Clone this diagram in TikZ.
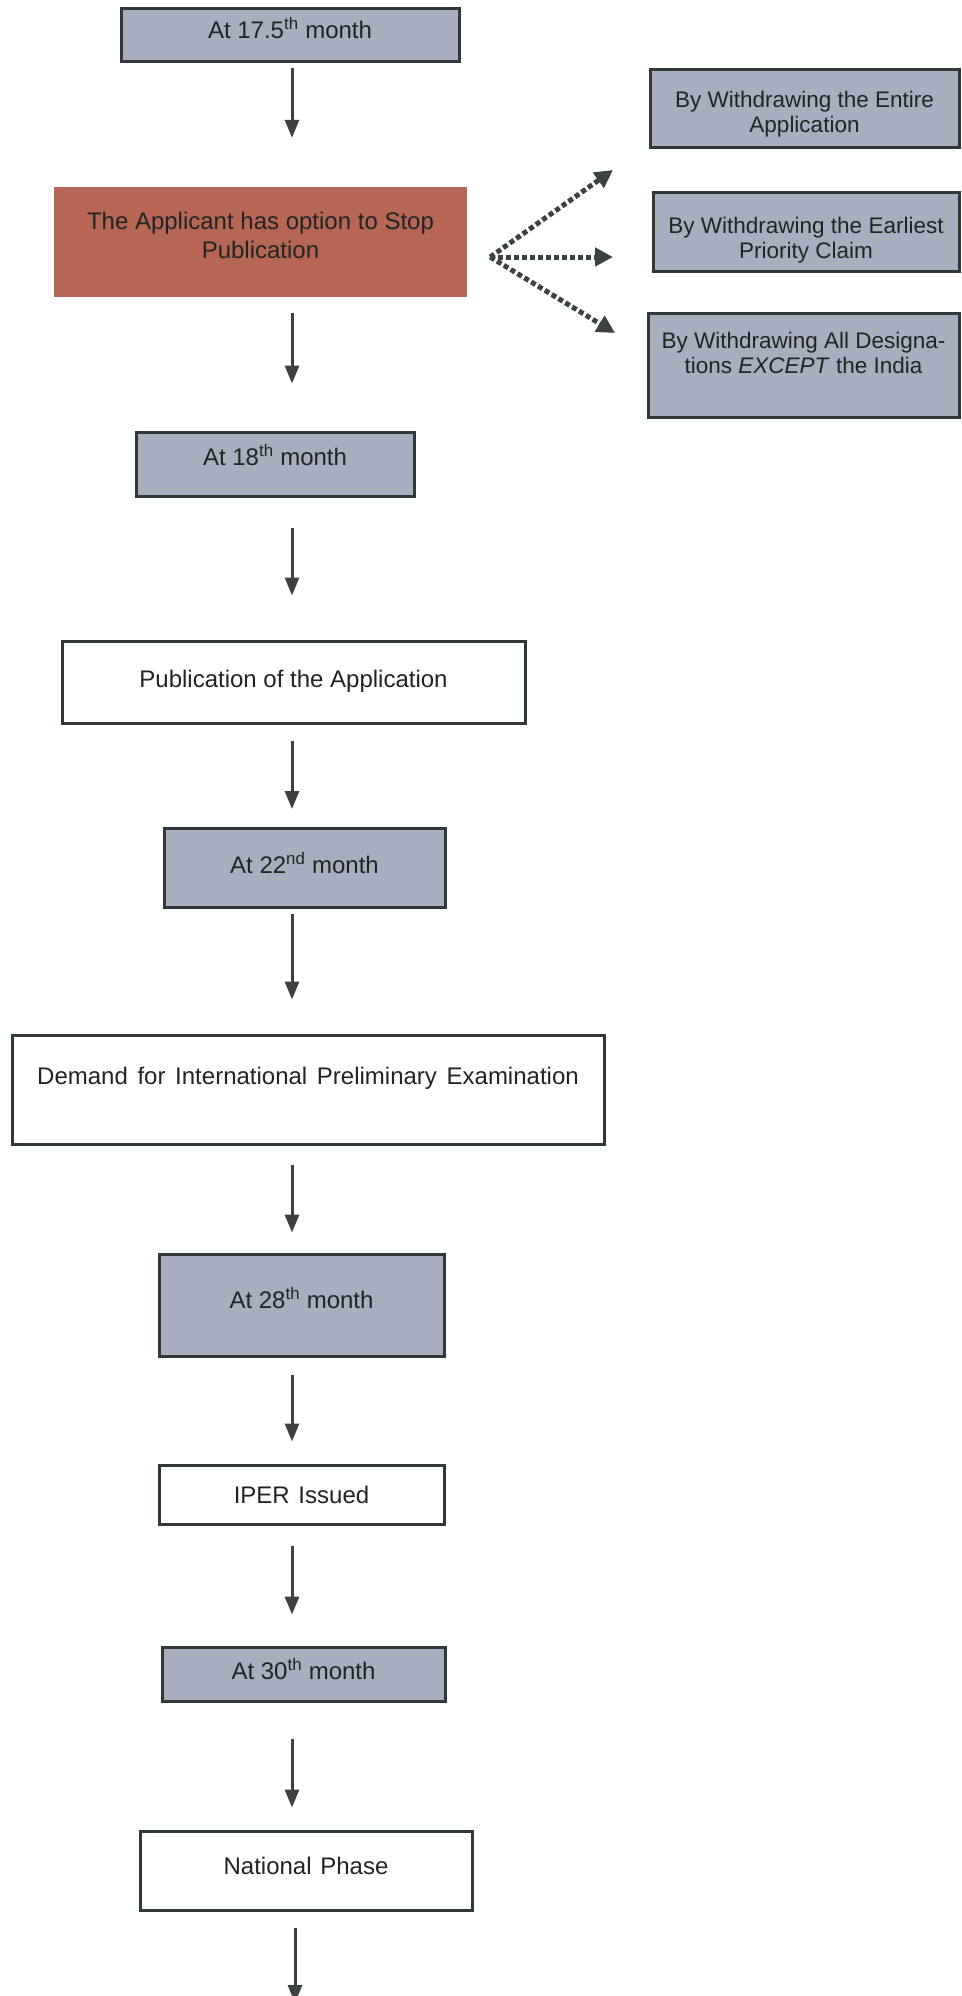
\documentclass[tikz,border=0pt]{standalone}
\usepackage{fontspec}
\setmainfont{Liberation Sans}
\usetikzlibrary{arrows.meta,calc}
\definecolor{mfill}{RGB}{168,173,192}
\definecolor{rfill}{RGB}{183,102,86}
\definecolor{bord}{RGB}{48,56,56}
\definecolor{arrc}{RGB}{60,66,66}
\definecolor{txt}{RGB}{32,36,36}
\begin{document}
\begin{tikzpicture}[x=1pt,y=-1pt,
  every node/.style={font=\fontsize{24}{28}\selectfont, text=txt, inner sep=0pt, align=center},
  base/.style={draw=bord, line width=3pt, rectangle},
  mbox/.style={base, fill=mfill, text height=17pt},
  wbox/.style={base, fill=white, text height=17pt},
  rbox/.style={rectangle, fill=rfill},
  sidebox/.style={base, fill=mfill, font=\fontsize{22.5}{25}\selectfont},
  arr/.style={draw=arrc, line width=3pt, -{Triangle[length=18pt,width=14pt]}},
  darr/.style={draw=arrc, line width=5pt, dash pattern=on 5pt off 3pt, -{Triangle[length=18pt,width=18pt]}}
]
\fill[white] (0,0) rectangle (961,1996);
\useasboundingbox (0,0) rectangle (961,1996);

% main column
\node[mbox, minimum width=338pt, minimum height=53pt, text depth=10pt] (b175) at (290,35.5) {At 17.5\textsuperscript{th} month};
\node[rbox, minimum width=413pt, minimum height=110pt, text height=46pt, text depth=13pt, font=\fontsize{24}{29}\selectfont] (red) at (260.5,242) {The Applicant has option to Stop\\Publication};
\node[mbox, minimum width=278pt, minimum height=64pt, text depth=14pt] (b18) at (275,464) {At 18\textsuperscript{th} month};
\node[wbox, minimum width=463pt, minimum height=82pt, text depth=7pt] (pub) at (293.5,682) {Publication of the Application};
\node[mbox, minimum width=281pt, minimum height=79pt, text depth=6pt] (b22) at (304.5,868) {At 22\textsuperscript{nd} month};
\node[wbox, minimum width=592pt, minimum height=109pt, text depth=27pt] (dem) at (308,1089.5) {Demand\hspace{3pt} for\hspace{3pt} International\hspace{3pt} Preliminary\hspace{3pt} Examination};
\node[mbox, minimum width=285pt, minimum height=102pt, text depth=10pt] (b28) at (301.5,1305) {At 28\textsuperscript{th} month};
\node[wbox, minimum width=285pt, minimum height=59pt, text depth=0pt] (iper) at (301.5,1494.5) {IPER\hspace{2pt} Issued};
\node[mbox, minimum width=283pt, minimum height=54pt, text depth=6pt] (b30) at (303.5,1674) {At 30\textsuperscript{th} month};
\node[wbox, minimum width=332pt, minimum height=79pt, text depth=9pt] (nat) at (306,1870.5) {National\hspace{2pt} Phase};

% side boxes
\node[sidebox, minimum width=309pt, minimum height=78pt, text height=48pt, text depth=0pt] (r1) at (804.5,109) {By Withdrawing the Entire\\Application};
\node[sidebox, minimum width=306pt, minimum height=78pt, text height=53pt, text depth=0pt] (r2) at (806,232) {By Withdrawing the Earliest\\Priority Claim};
\node[sidebox, minimum width=311pt, minimum height=104pt, text height=41pt, text depth=24pt] (r3) at (803.5,365) {By Withdrawing All Designa-\\tions \textit{EXCEPT} the India};

% helper coordinates
\coordinate (axis) at (292,0);
\coordinate (fork) at ([xshift=23pt,yshift=-15pt]red.east);
\coordinate (t1) at (613,170);
\coordinate (t2) at (613,257);
\coordinate (t3) at (615,333);
\coordinate (endpt) at (295,2003);

% vertical arrows
\draw[arr, shorten <=5pt, shorten >=49pt] (b175.south -| axis) -- (red.north -| axis);
\draw[arr, shorten <=16pt, shorten >=47pt] (red.south -| axis) -- (b18.north -| axis);
\draw[arr, shorten <=30pt, shorten >=44pt] (b18.south -| axis) -- (pub.north -| axis);
\draw[arr, shorten <=16pt, shorten >=18pt] (pub.south -| axis) -- (b22.north -| axis);
\draw[arr, shorten <=5pt, shorten >=34pt] (b22.south -| axis) -- (dem.north -| axis);
\draw[arr, shorten <=19pt, shorten >=20pt] (dem.south -| axis) -- (b28.north -| axis);
\draw[arr, shorten <=17pt, shorten >=22pt] (b28.south -| axis) -- (iper.north -| axis);
\draw[arr, shorten <=20pt, shorten >=31pt] (iper.south -| axis) -- (b30.north -| axis);
\draw[arr, shorten <=36pt, shorten >=22pt] (b30.south -| axis) -- (nat.north -| axis);
\draw[arr, shorten <=16pt] (nat.south -| endpt) -- (endpt);

% dotted option arrows
\draw[darr] (fork) -- (t1);
\draw[darr] (fork) -- (t2);
\draw[darr] (fork) -- (t3);
\end{tikzpicture}
\end{document}
